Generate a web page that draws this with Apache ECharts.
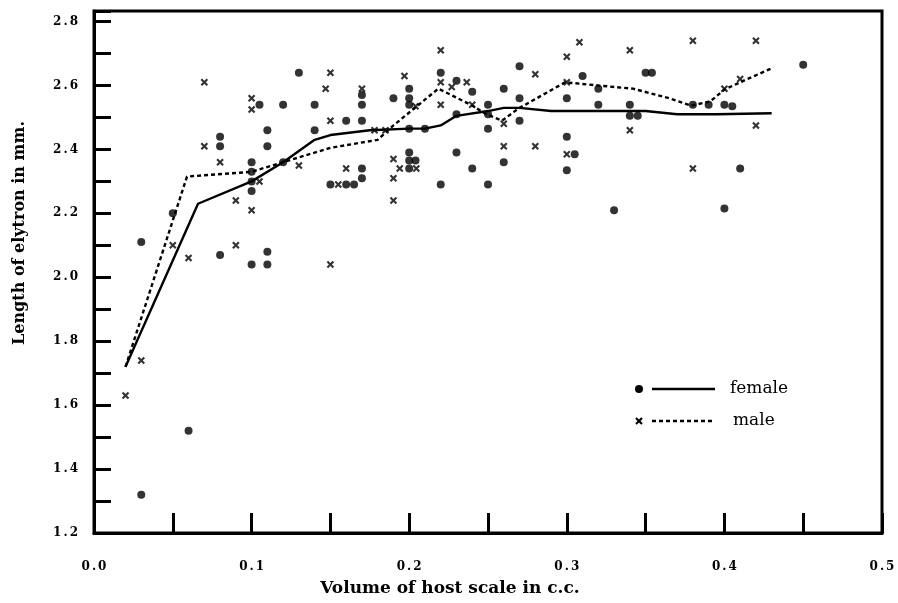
<!DOCTYPE html>
<html><head><meta charset="utf-8">
<script src="https://cdn.jsdelivr.net/npm/echarts@6/dist/echarts.min.js"></script>
<style>html,body{margin:0;padding:0;background:#fff}#c{width:898px;height:603px}</style>
</head><body><div id="c"></div>
<script>
// ---- data ----
const femalePoints = [
  [0.03,1.32],[0.06,1.52],[0.03,2.11],[0.05,2.20],[0.08,2.07],[0.10,2.04],[0.11,2.08],[0.11,2.04],
  [0.105,2.54],[0.12,2.54],[0.13,2.64],[0.14,2.54],[0.17,2.57],[0.17,2.54],[0.11,2.46],[0.14,2.46],
  [0.16,2.49],[0.17,2.49],[0.08,2.44],[0.08,2.41],[0.11,2.41],[0.10,2.36],[0.10,2.33],[0.10,2.30],
  [0.10,2.27],[0.12,2.36],[0.17,2.34],[0.17,2.31],[0.15,2.29],[0.16,2.29],[0.165,2.29],
  [0.19,2.56],[0.20,2.59],[0.20,2.56],[0.20,2.54],[0.22,2.64],[0.23,2.615],[0.24,2.58],[0.23,2.51],
  [0.25,2.54],[0.25,2.51],[0.26,2.59],[0.27,2.66],[0.27,2.56],[0.27,2.49],[0.25,2.465],[0.20,2.465],
  [0.21,2.465],[0.31,2.63],[0.35,2.64],[0.354,2.64],[0.30,2.56],[0.32,2.59],[0.32,2.54],[0.34,2.54],
  [0.34,2.505],[0.345,2.505],[0.20,2.39],[0.20,2.365],[0.204,2.365],[0.20,2.34],[0.23,2.39],[0.24,2.34],
  [0.22,2.29],[0.25,2.29],[0.26,2.36],[0.30,2.44],[0.305,2.385],[0.30,2.335],[0.33,2.21],
  [0.45,2.665],[0.38,2.54],[0.39,2.54],[0.40,2.54],[0.405,2.535],[0.41,2.34],[0.40,2.215]
];
const malePoints = [
  [0.02,1.63],[0.03,1.74],[0.05,2.10],[0.06,2.06],[0.09,2.10],[0.15,2.04],
  [0.07,2.61],[0.10,2.56],[0.10,2.525],[0.15,2.64],[0.147,2.59],[0.17,2.59],[0.15,2.49],[0.07,2.41],
  [0.08,2.36],[0.105,2.30],[0.13,2.35],[0.09,2.24],[0.10,2.21],[0.16,2.34],[0.155,2.29],
  [0.22,2.71],[0.197,2.63],[0.204,2.535],[0.22,2.61],[0.227,2.595],[0.2365,2.61],[0.22,2.54],[0.24,2.54],
  [0.26,2.48],[0.28,2.635],[0.178,2.46],[0.185,2.46],[0.30,2.69],[0.308,2.735],[0.34,2.71],[0.30,2.61],
  [0.34,2.46],[0.19,2.37],[0.194,2.34],[0.2045,2.34],[0.19,2.31],[0.19,2.24],[0.26,2.41],[0.28,2.41],
  [0.30,2.385],[0.38,2.74],[0.42,2.74],[0.40,2.59],[0.41,2.62],[0.42,2.475],[0.38,2.34]
];
const femaleLine = [
  [0.02,1.72],[0.066,2.23],[0.10,2.30],[0.12,2.36],[0.14,2.43],[0.15,2.445],[0.175,2.46],[0.20,2.465],
  [0.21,2.465],[0.22,2.475],[0.23,2.505],[0.25,2.52],[0.26,2.53],[0.27,2.53],[0.29,2.52],[0.32,2.52],
  [0.35,2.52],[0.37,2.51],[0.395,2.51],[0.43,2.513]
];
const maleLine = [
  [0.02,1.72],[0.059,2.315],[0.10,2.33],[0.12,2.36],[0.15,2.405],[0.18,2.43],[0.19,2.475],[0.2185,2.59],
  [0.239,2.54],[0.249,2.51],[0.259,2.49],[0.269,2.527],[0.299,2.61],[0.32,2.60],[0.342,2.59],[0.365,2.56],
  [0.379,2.537],[0.391,2.55],[0.40,2.587],[0.41,2.61],[0.431,2.656]
];
const xTickLabels = ['0.0','0.1','0.2','0.3','0.4','0.5'];
const yTickLabels = ['1.2','1.4','1.6','1.8','2.0','2.2','2.4','2.6','2.8'];
const legendNames = ['female','male'];
const xTitle = 'Volume of host scale in c.c.';
const yTitle = 'Length of elytron in mm.';

const crossPath = 'path://M0,2 L2,0 L5,3 L8,0 L10,2 L7,5 L10,8 L8,10 L5,7 L2,10 L0,8 L3,5 Z';
const serif = "'DejaVu Serif','Liberation Serif',serif";
const spaced = s => s.split('').join('\u2006');

const chart = echarts.init(document.getElementById('c'), null, {renderer:'canvas'});
chart.setOption({
  animation:false,
  backgroundColor:'#fff',
  grid:{left:94,right:16,top:11,bottom:70,show:true,borderColor:'#000',borderWidth:3,backgroundColor:'transparent'},
  xAxis:{
    type:'value',min:0,max:0.5,interval:0.05,
    axisLine:{show:true,lineStyle:{color:'#000',width:3}},
    axisTick:{show:true,inside:true,length:20,lineStyle:{color:'#000',width:3}},
    splitLine:{show:false},
    axisLabel:{margin:28,color:'#000',fontFamily:serif,fontSize:12,fontWeight:'bold',
      formatter:function(v){const r=Math.round(v*20);if(Math.abs(v*20-r)>1e-6||r%2)return '';return spaced(xTickLabels[r/2]||'');}}
  },
  yAxis:{
    type:'value',min:1.2,max:2.833,interval:0.1,
    axisLine:{show:true,lineStyle:{color:'#000',width:3}},
    axisTick:{show:true,inside:true,length:17,lineStyle:{color:'#000',width:3}},
    splitLine:{show:false},
    axisLabel:{margin:16,color:'#000',fontFamily:serif,fontSize:12,fontWeight:'bold',
      formatter:function(v){const r=Math.round((v-1.2)*10);if(Math.abs((v-1.2)*10-r)>1e-6||r%2)return '';return spaced(yTickLabels[r/2]||'');}}
  },
  series:[
    {name:'female line',type:'line',data:femaleLine,showSymbol:false,symbol:'none',silent:true,
      lineStyle:{color:'#000',width:2.4,type:'solid'},z:2},
    {name:'male line',type:'line',data:maleLine,showSymbol:false,symbol:'none',silent:true,
      lineStyle:{color:'#000',width:2.4,type:[4,3]},z:2},
    {name:'female',type:'scatter',data:femalePoints,symbol:'circle',symbolSize:8,
      itemStyle:{color:'#000'},z:3},
    {name:'male',type:'scatter',data:malePoints,symbol:crossPath,symbolSize:7.5,
      itemStyle:{color:'#000'},z:3}
  ],
  graphic:[
    {type:'text',x:20,y:233,rotation:Math.PI/2,
      style:{text:yTitle,fontFamily:serif,fontSize:16,fontWeight:'bold',fill:'#000',align:'center',verticalAlign:'middle'}},
    {type:'text',x:450,y:589,
      style:{text:xTitle,fontFamily:serif,fontSize:17,fontWeight:'bold',fill:'#000',align:'center',verticalAlign:'middle'}},
    {type:'circle',shape:{cx:639,cy:389,r:4},style:{fill:'#000'}},
    {type:'line',shape:{x1:652,y1:389,x2:715,y2:389},style:{stroke:'#000',lineWidth:2.5}},
    {type:'text',x:730,y:389,style:{text:legendNames[0],fontFamily:serif,fontSize:17,fill:'#000',verticalAlign:'middle'}},
    {type:'line',shape:{x1:636,y1:418,x2:642,y2:424},style:{stroke:'#000',lineWidth:2.2}},
    {type:'line',shape:{x1:642,y1:418,x2:636,y2:424},style:{stroke:'#000',lineWidth:2.2}},
    {type:'line',shape:{x1:652,y1:421,x2:715,y2:421},style:{stroke:'#000',lineWidth:2.5,lineDash:[4,3]}},
    {type:'text',x:733,y:421,style:{text:legendNames[1],fontFamily:serif,fontSize:17,fill:'#000',verticalAlign:'middle'}}
  ]
});
</script></body></html>
